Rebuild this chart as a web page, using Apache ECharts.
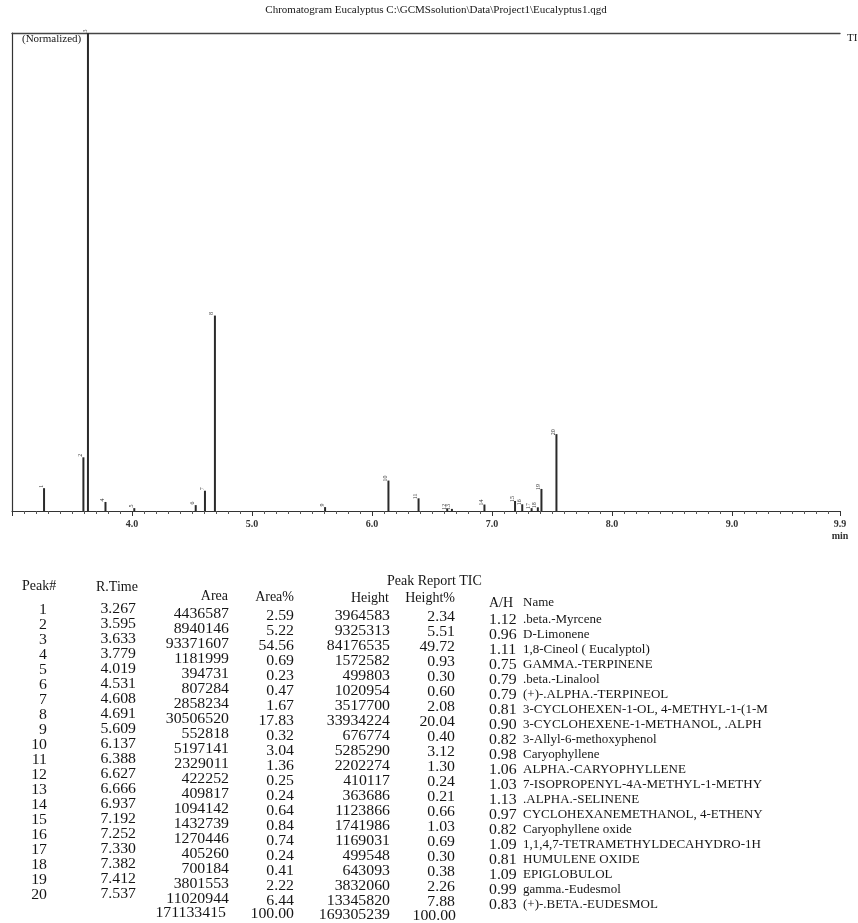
<!DOCTYPE html>
<html>
<head>
<meta charset="utf-8">
<script src="https://cdn.jsdelivr.net/npm/echarts@6/dist/echarts.min.js"></script>
<style>
  html, body { margin: 0; padding: 0; background: #fff; }
  #main { width: 858px; height: 923px; }
</style>
</head>
<body>
<div id="main"></div>
<script>
// peak report TIC
var peakNo = [1, 2, 3, 4, 5, 6, 7, 8, 9, 10, 11, 12, 13, 14, 15, 16, 17, 18, 19, 20];
var rTimes = [3.267, 3.595, 3.633, 3.779, 4.019, 4.531, 4.608, 4.691, 5.609, 6.137,
              6.388, 6.627, 6.666, 6.937, 7.192, 7.252, 7.330, 7.382, 7.412, 7.537];
var areas = [4436587, 8940146, 93371607, 1181999, 394731, 807284, 2858234, 30506520, 552818, 5197141,
             2329011, 422252, 409817, 1094142, 1432739, 1270446, 405260, 700184, 3801553, 11020944];
var areaPct = ['2.59', '5.22', '54.56', '0.69', '0.23', '0.47', '1.67', '17.83', '0.32', '3.04',
               '1.36', '0.25', '0.24', '0.64', '0.84', '0.74', '0.24', '0.41', '2.22', '6.44'];
var heights = [3964583, 9325313, 84176535, 1572582, 499803, 1020954, 3517700, 33934224, 676774, 5285290,
               2202274, 410117, 363686, 1123866, 1741986, 1169031, 499548, 643093, 3832060, 13345820];
var heightPct = ['2.34', '5.51', '49.72', '0.93', '0.30', '0.60', '2.08', '20.04', '0.40', '3.12',
                 '1.30', '0.24', '0.21', '0.66', '1.03', '0.69', '0.30', '0.38', '2.26', '7.88'];
var ahRatio = ['1.12', '0.96', '1.11', '0.75', '0.79', '0.79', '0.81', '0.90', '0.82', '0.98',
               '1.06', '1.03', '1.13', '0.97', '0.82', '1.09', '0.81', '1.09', '0.99', '0.83'];
var names = ['.beta.-Myrcene', 'D-Limonene', '1,8-Cineol ( Eucalyptol)', 'GAMMA.-TERPINENE',
             '.beta.-Linalool', '(+)-.ALPHA.-TERPINEOL', '3-CYCLOHEXEN-1-OL, 4-METHYL-1-(1-M',
             '3-CYCLOHEXENE-1-METHANOL, .ALPH', '3-Allyl-6-methoxyphenol', 'Caryophyllene',
             'ALPHA.-CARYOPHYLLENE', '7-ISOPROPENYL-4A-METHYL-1-METHY', '.ALPHA.-SELINENE',
             'CYCLOHEXANEMETHANOL, 4-ETHENY', 'Caryophyllene oxide', '1,1,4,7-TETRAMETHYLDECAHYDRO-1H',
             'HUMULENE OXIDE', 'EPIGLOBULOL', 'gamma.-Eudesmol', '(+)-.BETA.-EUDESMOL'];
var totalArea = 171133415;
var totalHeight = 169305239;
var xTicks = [4.0, 5.0, 6.0, 7.0, 8.0, 9.0, 9.9];

var serif = '"Liberation Serif", "Times New Roman", serif';
var ink = '#151515';

var chart = echarts.init(document.getElementById('main'));

var peakData = [];
for (var i = 0; i < rTimes.length; i++) {
    peakData.push({ value: [rTimes[i], heights[i]], peak: peakNo[i] });
}

// table text, drawn as graphic texts
var graphics = [];
function txt(x, y, s, align, size, sx) {
    graphics.push({
        type: 'text',
        x: x, y: y,
        scaleX: sx || 1,
        style: {
            text: s,
            fill: ink,
            font: (size || 14) + 'px ' + serif,
            textAlign: align || 'left',
            textVerticalAlign: 'middle'
        }
    });
}
// numbers in the scan print wider than plain Times
function num(x, y, s, align) { txt(x, y, s, align || 'right', 14, 1.13); }

txt(436, 10, 'Chromatogram Eucalyptus C:\\GCMSsolution\\Data\\Project1\\Eucalyptus1.qgd', 'center', 11);
txt(22, 39, '(Normalized)', 'left', 11);
txt(847, 38, 'TIC', 'left', 11);

txt(22, 586, 'Peak#');
txt(96, 587, 'R.Time');
txt(228, 596, 'Area', 'right');
txt(294, 597, 'Area%', 'right');
txt(387, 581, 'Peak Report TIC');
txt(389, 598, 'Height', 'right');
txt(455, 598, 'Height%', 'right');
txt(489, 603, 'A/H');
txt(523, 603, 'Name', 'left', 13);

for (var r = 0; r < peakNo.length; r++) {
    var dy = 15 * r;
    num(47, 610 + dy, String(peakNo[r]));
    num(136, 609 + dy, rTimes[r].toFixed(3));
    num(229, 614 + dy, String(areas[r]));
    num(294, 616 + dy, areaPct[r]);
    num(390, 616 + dy, String(heights[r]));
    num(455, 617 + dy, heightPct[r]);
    num(489, 620 + dy, ahRatio[r], 'left');
    txt(523, 620 + dy, names[r], 'left', 13);
}
num(226, 913, String(totalArea));
num(294, 914, '100.00');
num(390, 915, String(totalHeight));
num(456, 916, '100.00');

option = {
    backgroundColor: '#fff',
    animation: false,
    grid: { left: 12, right: 18, top: 33, bottom: 412 },
    xAxis: [
        {
            type: 'value',
            min: 3.0,
            max: 9.9,
            interval: 1,
            axisLine: { lineStyle: { color: '#333', width: 1.2 } },
            axisTick: { show: true, length: 5, lineStyle: { color: '#333' } },
            minorTick: { show: true, splitNumber: 10, length: 3, lineStyle: { color: '#555' } },
            splitLine: { show: false },
            axisLabel: {
                showMinLabel: false,
                margin: 7,
                fontFamily: serif,
                fontSize: 10,
                fontWeight: 'bold',
                color: '#333',
                lineHeight: 12,
                formatter: function (v) {
                    if (v >= 9.9) return xTicks[6].toFixed(1) + '\nmin';
                    return v.toFixed(1);
                }
            }
        },
        {
            type: 'value',
            position: 'top',
            min: 3.0,
            max: 9.9,
            axisLine: { show: true, onZero: false, lineStyle: { color: '#444', width: 1.4 } },
            axisTick: { show: false },
            axisLabel: { show: false },
            splitLine: { show: false }
        }
    ],
    yAxis: {
        type: 'value',
        min: 0,
        max: 83000000,
        axisLine: { show: true, lineStyle: { color: '#333', width: 1.2 } },
        axisTick: { show: false },
        axisLabel: { show: false },
        splitLine: { show: false }
    },
    series: [
        {
            type: 'bar',
            data: peakData,
            barWidth: 2,
            clip: true,
            itemStyle: { color: '#2a2a2a' },
            label: {
                show: true,
                position: 'top',
                distance: 2,
                rotate: 90,
                fontSize: 6,
                fontFamily: serif,
                color: '#333',
                formatter: function (p) { return p.data.peak; }
            }
        }
    ],
    graphic: graphics
};

chart.setOption(option);
</script>
</body>
</html>
